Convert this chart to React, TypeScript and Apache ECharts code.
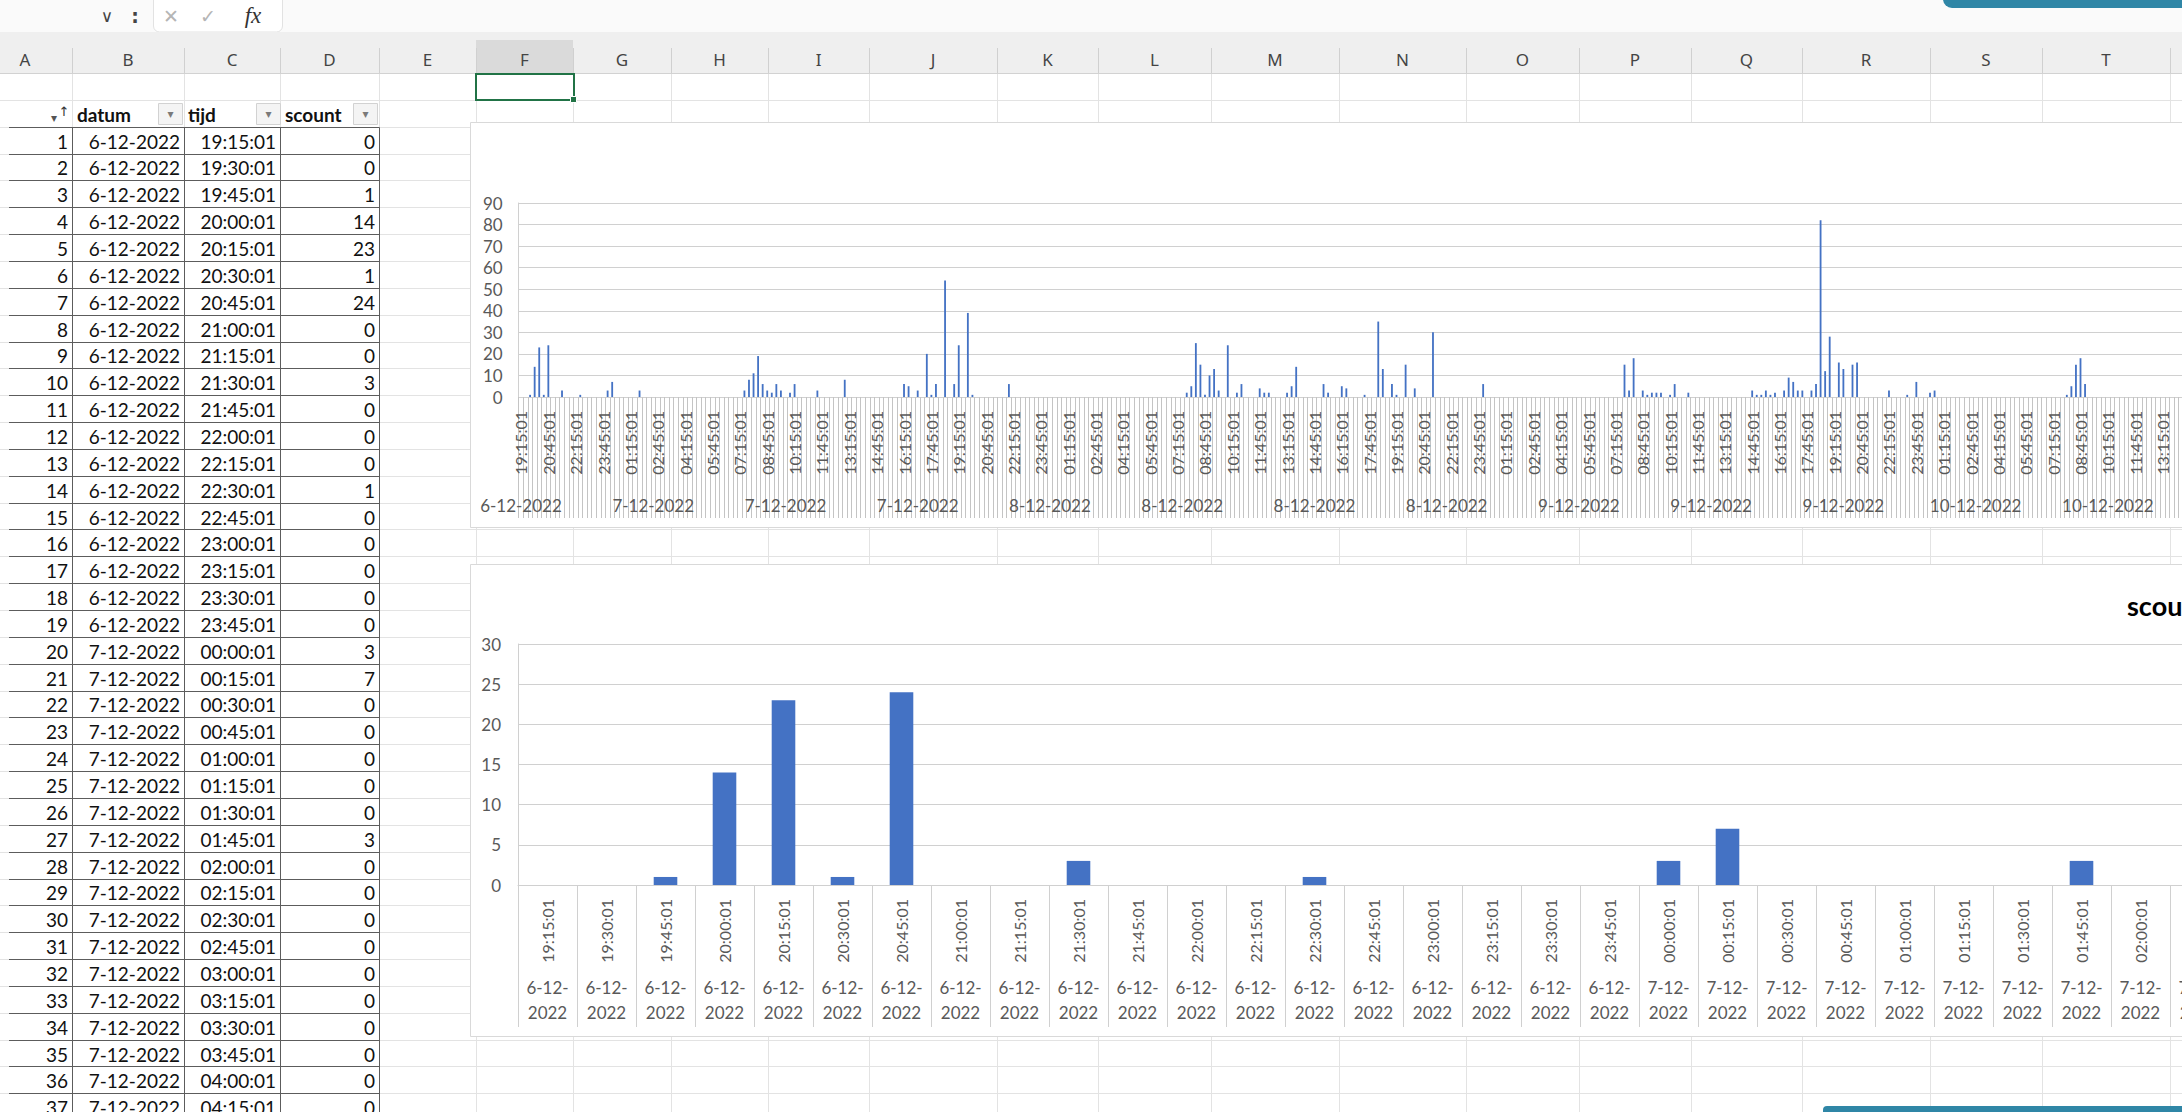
import React, { useEffect, useRef } from "react";
import * as echarts from "echarts";

const W = 2182;
const H = 1112;
const CANVAS_W = 2400; // the sheet continues past the right edge of the window

// scount per 15-minute slot, first slot = 6-12-2022 19:15:01
const scount: number[] = [
  // 6-12 19:15 .. 7-12 01:00
  0, 0, 1, 14, 23, 1, 24, 0, 0, 3, 0, 0, 0, 1, 0, 0, 0, 0, 0, 3, 7, 0, 0, 0,
  // 7-12 01:15 .. 07:00
  0, 0, 3, 0, 0, 0, 0, 0, 0, 0, 0, 0, 0, 0, 0, 0, 0, 0, 0, 0, 0, 0, 0, 0,
  // 7-12 07:15 .. 13:00
  0, 3, 8, 11, 19, 6, 3, 2, 6, 3, 0, 2, 6, 0, 0, 0, 0, 3, 0, 0, 0, 0, 0, 8,
  // 7-12 13:15 .. 19:00
  0, 0, 0, 0, 0, 0, 0, 0, 0, 0, 0, 0, 6, 5, 0, 3, 0, 20, 1, 6, 0, 54, 0, 6,
  // 7-12 19:15 .. 8-12 01:00
  24, 0, 39, 1, 0, 0, 0, 0, 0, 0, 0, 6, 0, 0, 0, 0, 0, 0, 0, 0, 0, 0, 0, 0,
  // 8-12 01:15 .. 07:00
  0, 0, 0, 0, 0, 0, 0, 0, 0, 0, 0, 0, 0, 0, 0, 0, 0, 0, 0, 0, 0, 0, 0, 0,
  // 8-12 07:15 .. 13:00
  0, 0, 2, 5, 25, 15, 1, 10, 13, 3, 0, 24, 0, 2, 6, 0, 0, 0, 4, 2, 2, 0, 0, 0,
  // 8-12 13:15 .. 19:00
  2, 5, 14, 0, 0, 0, 0, 0, 6, 2, 0, 0, 5, 4, 0, 0, 0, 1, 0, 0, 35, 13, 0, 6,
  // 8-12 19:15 .. 9-12 01:00
  1, 0, 15, 0, 4, 0, 0, 0, 30, 0, 0, 0, 0, 0, 0, 0, 0, 0, 0, 6, 0, 0, 0, 0,
  // 9-12 01:15 .. 07:00
  0, 0, 0, 0, 0, 0, 0, 0, 0, 0, 0, 0, 0, 0, 0, 0, 0, 0, 0, 0, 0, 0, 0, 0,
  // 9-12 07:15 .. 13:00
  0, 0, 15, 3, 18, 0, 3, 1, 2, 2, 2, 0, 1, 6, 0, 0, 2, 0, 0, 0, 0, 0, 0, 0,
  // 9-12 13:15 .. 19:00
  0, 0, 0, 0, 0, 0, 3, 1, 1, 3, 1, 2, 0, 3, 9, 7, 3, 3, 0, 3, 6, 82, 12, 28,
  // 9-12 19:15 .. 10-12 01:00
  0, 16, 13, 0, 15, 16, 0, 0, 0, 0, 0, 0, 3, 0, 0, 0, 1, 0, 7, 0, 0, 2, 3, 0,
  // 10-12 01:15 .. 07:00
  0, 0, 0, 0, 0, 0, 0, 0, 0, 0, 0, 0, 0, 0, 0, 0, 0, 0, 0, 0, 0, 0, 0, 0,
  // 10-12 07:15 .. 13:00
  0, 0, 0, 1, 5, 15, 18, 6, 0, 0, 0, 0, 0, 0, 0, 0, 0, 0, 0, 0, 0, 0, 0, 0,
  // 10-12 13:15 .. 14:30
  0, 0, 0, 0, 0, 0,
];

const FIRST_DAY = 6;
const FIRST_MINUTE = 19 * 60 + 15;
const SLOT_MINUTES = 15;
const pad = (n: number) => (n < 10 ? "0" + n : "" + n);

// category labels (tijd / datum)
const tijd: string[] = scount.map((_, i) => {
  const m = FIRST_MINUTE + i * SLOT_MINUTES;
  return `${pad(Math.floor(m / 60) % 24)}:${pad(m % 60)}:01`;
});
const datum: string[] = scount.map((_, i) => {
  const d = FIRST_DAY + Math.floor((FIRST_MINUTE + i * SLOT_MINUTES) / 1440);
  return `${d}-12-2022`;
});

const TABLE_HEADERS = ["datum", "tijd", "scount"];
const TABLE_ROWS = 37;
const ZOOM_COUNT = 29;
const TOP_TICKS = [0, 10, 20, 30, 40, 50, 60, 70, 80, 90];
const BOTTOM_TICKS = [0, 5, 10, 15, 20, 25, 30];
const COLUMN_LETTERS = ["A", "B", "C", "D", "E", "F", "G", "H", "I", "J", "K", "L", "M", "N", "O", "P", "Q", "R", "S", "T"];

// ---------- layout ----------
const COL_EDGES = [-22, 72, 184, 280, 379, 476, 573, 671, 768, 869, 997, 1098, 1211, 1339, 1466, 1579, 1691, 1802, 1930, 2042, 2170];
const ROW0 = 73;
const ROW_H = 26.85;
const rowY = (k: number) => ROW0 + ROW_H * k;
const crisp = (v: number) => Math.round(v) + 0.5;

const FONT = "Lato";
const AXIS_COLOR = "#595959";
const GRID_COLOR = "#d0d0d0";
const TICK_COLOR = "#c4c4c4";
const BAR_COLOR = "#4472C4";

const TOP_CAT_W = 4.56;
const BOT_CAT_W = 59;

function buildGraphics() {
  const g: any[] = [];
  // top ribbon area
  g.push({ type: "rect", z: 0, shape: { x: 0, y: 0, width: CANVAS_W, height: 32 }, style: { fill: "#fafafa" } });
  g.push({ type: "rect", z: 0, shape: { x: 153.5, y: -8, width: 129, height: 40, r: 6 }, style: { fill: "#ffffff", stroke: "#e2e2e2", lineWidth: 1 } });
  g.push({ type: "text", z: 1, x: 107, y: 16, style: { text: "∨", fontSize: 17, fontFamily: "DejaVu Sans", fill: "#444", align: "center", verticalAlign: "middle" } });
  g.push({ type: "text", z: 1, x: 135, y: 16, style: { text: ":", fontSize: 19, fontWeight: "bold", fontFamily: "DejaVu Sans", fill: "#444", align: "center", verticalAlign: "middle" } });
  g.push({ type: "text", z: 1, x: 171, y: 16, style: { text: "✕", fontSize: 19, fontFamily: "DejaVu Sans", fill: "#b5b5b5", align: "center", verticalAlign: "middle" } });
  g.push({ type: "text", z: 1, x: 208, y: 16, style: { text: "✓", fontSize: 19, fontFamily: "DejaVu Sans", fill: "#b5b5b5", align: "center", verticalAlign: "middle" } });
  g.push({ type: "text", z: 1, x: 253, y: 15, style: { text: "fx", fontSize: 23, fontStyle: "italic", fontFamily: "Liberation Serif", fill: "#333", align: "center", verticalAlign: "middle" } });

  // column header band
  g.push({ type: "rect", z: 0, shape: { x: 0, y: 32, width: CANVAS_W, height: 41 }, style: { fill: "#efefef" } });
  g.push({ type: "rect", z: 0, shape: { x: 476, y: 40, width: 97, height: 33 }, style: { fill: "#dadada" } });
  g.push({ type: "line", z: 0, shape: { x1: 0, y1: 73.5, x2: CANVAS_W, y2: 73.5 }, style: { stroke: "#d2d2d2", lineWidth: 1 } });
  COLUMN_LETTERS.forEach((L, i) => {
    const cx = (COL_EDGES[i] + COL_EDGES[i + 1]) / 2;
    g.push({ type: "text", z: 1, x: cx, y: 59, style: { text: L, fontSize: 17, fontFamily: "Noto Sans", fill: "#444", align: "center", verticalAlign: "middle" } });
  });
  COL_EDGES.slice(1).forEach((x) => {
    g.push({ type: "line", z: 0, shape: { x1: crisp(x), y1: 48, x2: crisp(x), y2: 73 }, style: { stroke: "#d0d0d0", lineWidth: 1 } });
  });

  // sheet gridlines
  for (let k = 1; k <= 40; k++) {
    const y = crisp(rowY(k));
    g.push({ type: "line", z: 0, shape: { x1: 0, y1: y, x2: CANVAS_W, y2: y }, style: { stroke: "#e3e3e3", lineWidth: 1 } });
  }
  COL_EDGES.slice(1).forEach((x) => {
    g.push({ type: "line", z: 0, shape: { x1: crisp(x), y1: 74, x2: crisp(x), y2: H }, style: { stroke: "#e3e3e3", lineWidth: 1 } });
  });

  // table borders
  for (let k = 2; k <= 40; k++) {
    const y = crisp(rowY(k));
    g.push({ type: "line", z: 1, shape: { x1: 9, y1: y, x2: 379.5, y2: y }, style: { stroke: "#5c5c5c", lineWidth: 1 } });
  }
  [72, 184, 280, 379].forEach((x) => {
    g.push({ type: "line", z: 1, shape: { x1: crisp(x), y1: crisp(rowY(2)), x2: crisp(x), y2: H }, style: { stroke: "#5c5c5c", lineWidth: 1 } });
  });

  // table header row
  const hy = rowY(1) + ROW_H / 2;
  [77, 188, 285].forEach((x, i) => {
    g.push({ type: "text", z: 2, x, y: hy + 1, style: { text: TABLE_HEADERS[i], fontSize: 19, fontWeight: "bold", fontFamily: FONT, fill: "#111", align: "left", verticalAlign: "middle" } });
  });
  [158, 256, 353].forEach((x) => {
    g.push({ type: "rect", z: 2, shape: { x: x + 0.5, y: 103.5, width: 24, height: 21 }, style: { fill: "#f4f4f4", stroke: "#d2d2d2", lineWidth: 1 } });
    g.push({ type: "text", z: 3, x: x + 12.5, y: 114, style: { text: "▾", fontSize: 12, fontFamily: "DejaVu Sans", fill: "#7a7a7a", align: "center", verticalAlign: "middle" } });
  });
  g.push({ type: "text", z: 3, x: 54, y: 118, style: { text: "▾", fontSize: 12, fontFamily: "DejaVu Sans", fill: "#555", align: "center", verticalAlign: "middle" } });
  g.push({ type: "text", z: 3, x: 64, y: 111, style: { text: "↑", fontSize: 13, fontFamily: "DejaVu Sans", fill: "#333", align: "center", verticalAlign: "middle" } });

  // table data rows
  for (let i = 0; i < TABLE_ROWS; i++) {
    const y = rowY(i + 2) + ROW_H / 2 + 1;
    const cells = [String(i + 1), datum[i], tijd[i], String(scount[i])];
    [68, 180, 276, 375].forEach((x, c) => {
      g.push({ type: "text", z: 2, x, y, style: { text: cells[c], fontSize: 19, fontFamily: FONT, fill: "#111", align: "right", verticalAlign: "middle" } });
    });
  }

  // selected cell F1
  g.push({ type: "rect", z: 3, shape: { x: 476, y: 74, width: 98, height: 26 }, style: { fill: "none", stroke: "#217346", lineWidth: 2 } });
  g.push({ type: "rect", z: 4, shape: { x: 570.5, y: 96.5, width: 6, height: 6 }, style: { fill: "#217346", stroke: "#ffffff", lineWidth: 1 } });

  // chart boxes
  g.push({ type: "rect", z: 1, shape: { x: 470.5, y: 122.5, width: 1900, height: 405 }, style: { fill: "#ffffff", stroke: "#d9d9d9", lineWidth: 1 } });
  g.push({ type: "rect", z: 1, shape: { x: 470.5, y: 564.5, width: 1900, height: 472 }, style: { fill: "#ffffff", stroke: "#d9d9d9", lineWidth: 1 } });
  g.push({ type: "text", z: 2, x: 2127, y: 605, style: { text: "scount", fontSize: 27, fontWeight: "bold", fontFamily: FONT, fill: "#000", align: "left", verticalAlign: "middle" } });

  // window decoration (teal bars)
  g.push({ type: "rect", z: 5, shape: { x: 1943, y: -12, width: 500, height: 20, r: 9 }, style: { fill: "#2f86a6" } });
  g.push({ type: "rect", z: 5, shape: { x: 1823, y: 1106, width: 600, height: 20, r: 4 }, style: { fill: "#2f86a6" } });
  return g;
}

function buildOption() {
  const zoomTijd = tijd.slice(0, ZOOM_COUNT);
  const zoomDatum = datum.slice(0, ZOOM_COUNT).map((d) => d.replace(/-(\d{4})$/, "-\n$1"));
  const zoomValues = scount.slice(0, ZOOM_COUNT);
  const axisText = { color: AXIS_COLOR, fontFamily: FONT };
  return {
    animation: false,
    textStyle: { fontFamily: FONT },
    graphic: buildGraphics(),
    grid: [
      { left: 518.7, top: 203, width: scount.length * TOP_CAT_W, height: 194 },
      { left: 518, top: 644, width: ZOOM_COUNT * BOT_CAT_W, height: 241 },
    ],
    xAxis: [
      {
        gridIndex: 0, type: "category", data: tijd, z: 3,
        axisLine: { lineStyle: { color: GRID_COLOR } },
        axisTick: { show: true, interval: 0, length: 121, lineStyle: { color: TICK_COLOR } },
        axisLabel: { ...axisText, interval: 5, rotate: 90, margin: 14, fontSize: 16 },
      },
      {
        gridIndex: 0, type: "category", data: datum, position: "bottom", z: 3,
        axisLine: { show: false }, axisTick: { show: false },
        axisLabel: { ...axisText, interval: 28, margin: 100, fontSize: 17 },
      },
      {
        gridIndex: 1, type: "category", data: zoomTijd, z: 3,
        axisLine: { lineStyle: { color: GRID_COLOR } },
        axisTick: { show: true, interval: 0, length: 142, lineStyle: { color: GRID_COLOR } },
        axisLabel: { ...axisText, interval: 0, rotate: 90, margin: 14, fontSize: 16 },
      },
      {
        gridIndex: 1, type: "category", data: zoomDatum, position: "bottom", z: 3,
        axisLine: { show: false }, axisTick: { show: false },
        axisLabel: { ...axisText, interval: 0, margin: 90, fontSize: 17, lineHeight: 25 },
      },
    ],
    yAxis: [
      {
        gridIndex: 0, type: "value", min: TOP_TICKS[0], max: TOP_TICKS[TOP_TICKS.length - 1], interval: 10, z: 3,
        axisLine: { show: true, lineStyle: { color: GRID_COLOR } }, axisTick: { show: false },
        splitLine: { lineStyle: { color: GRID_COLOR } },
        axisLabel: { ...axisText, margin: 16, fontSize: 17 },
      },
      {
        gridIndex: 1, type: "value", min: BOTTOM_TICKS[0], max: BOTTOM_TICKS[BOTTOM_TICKS.length - 1], interval: 5, z: 3,
        axisLine: { show: true, lineStyle: { color: GRID_COLOR } }, axisTick: { show: false },
        splitLine: { lineStyle: { color: GRID_COLOR } },
        axisLabel: { ...axisText, margin: 17, fontSize: 17 },
      },
    ],
    series: [
      { type: "bar", name: "scount", xAxisIndex: 0, yAxisIndex: 0, data: scount, barWidth: "40%", itemStyle: { color: BAR_COLOR }, z: 4 },
      { type: "bar", name: "scount", xAxisIndex: 2, yAxisIndex: 1, data: zoomValues, barWidth: "40%", itemStyle: { color: BAR_COLOR }, z: 4 },
    ],
  };
}

export default function App() {
  const ref = useRef<HTMLDivElement>(null);
  useEffect(() => {
    if (!ref.current) return;
    const chart = echarts.init(ref.current, undefined, { renderer: "svg", width: CANVAS_W, height: H });
    chart.setOption(buildOption() as any);
    return () => chart.dispose();
  }, []);
  return (
    <div style={{ position: "fixed", left: 0, top: 0, width: W, height: H, overflow: "hidden", background: "#ffffff" }}>
      <div ref={ref} style={{ width: CANVAS_W, height: H }} />
    </div>
  );
}
